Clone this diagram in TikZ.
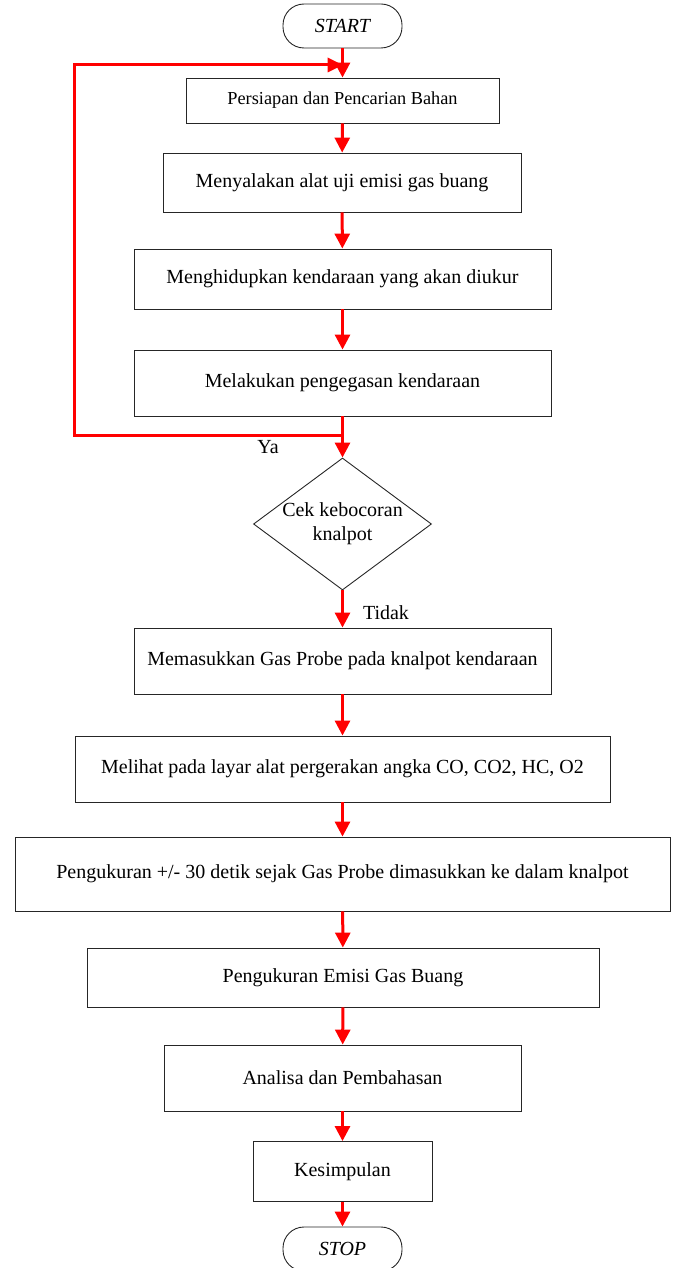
\documentclass[tikz,border=0pt]{standalone}
\usepackage{fontspec}
\setmainfont{Liberation Serif}
\usetikzlibrary{arrows.meta,shapes.geometric}
\begin{document}
\begin{tikzpicture}[x=1pt,y=-1pt,
  box/.style={draw=black!85,line width=0.9pt,inner sep=0pt,font=\fontsize{20}{24}\selectfont},
  term/.style={draw=black!85,line width=0.9pt,rounded corners=21pt,inner sep=0pt,minimum width=119pt,minimum height=44pt,font=\fontsize{20}{24}\selectfont\itshape},
  flow/.style={draw=red,line width=3pt,-{Triangle[length=15pt,width=15pt]}},
  lbl/.style={inner sep=0pt,font=\fontsize{20}{24}\selectfont}]
\useasboundingbox (0,0) rectangle (678,1268);
\node[term] (start) at (342.5,26) {START};
\node[box,minimum width=313pt,minimum height=45pt,font=\fontsize{18.3}{22}\selectfont] (b1) at (342.5,100.5) {Persiapan dan Pencarian Bahan};
\node[box,minimum width=358pt,minimum height=59pt] (b2) at (342,182.5) {Menyalakan alat uji emisi gas buang};
\node[box,minimum width=417pt,minimum height=60pt] (b3) at (342.5,279) {Menghidupkan kendaraan yang akan diukur};
\node[box,minimum width=417pt,minimum height=66pt] (b4) at (342.5,383) {Melakukan pengegasan kendaraan};
\node[draw=black!85,line width=0.9pt,diamond,aspect=1.35,inner sep=0pt,minimum width=178pt,minimum height=132pt,align=center,font=\fontsize{20}{24}\selectfont] (d) at (342.5,524) {Cek kebocoran\\knalpot};
\node[box,minimum width=417pt,minimum height=66pt] (b5) at (342.5,661) {Memasukkan Gas Probe pada knalpot kendaraan};
\node[box,minimum width=535pt,minimum height=66pt] (b6) at (342.5,769) {Melihat pada layar alat pergerakan angka CO, CO2, HC, O2};
\node[box,minimum width=655pt,minimum height=74pt] (b7) at (342.5,874) {Pengukuran +/- 30 detik sejak Gas Probe dimasukkan ke dalam knalpot};
\node[box,minimum width=512pt,minimum height=59pt] (b8) at (343,977.5) {Pengukuran Emisi Gas Buang};
\node[box,minimum width=357pt,minimum height=66pt] (b9) at (342.5,1078) {Analisa dan Pembahasan};
\node[box,minimum width=179pt,minimum height=60pt] (b10) at (342.5,1171.5) {Kesimpulan};
\node[term] (stop) at (342.5,1249) {STOP};
\node[lbl] (ya) at (268,447) {Ya};
\node[lbl] (tidak) at (386,613) {Tidak};
\coordinate (lb) at (74,435);
\coordinate (lt) at (74,65);
\coordinate (lm) at (342.5,435);
\coordinate (tm) at (342.5,65);
\draw[flow] (start) -- (b1);
\draw[flow] (b1) -- (b2);
\draw[flow] (b2) -- (b3);
\draw[flow] (b3) -- (b4);
\draw[flow] (b4) -- (d);
\draw[draw=red,line width=3pt,line join=miter] (lm) -- (lb) -- (lt) -- ([xshift=-14pt]tm);
\draw[draw=red,line width=0pt,-{Triangle[length=15pt,width=15pt]}] ([xshift=-16pt]tm) -- (tm);
\draw[flow] (d) -- (b5);
\draw[flow] (b5) -- (b6);
\draw[flow] (b6) -- (b7);
\draw[flow] (b7) -- (b8);
\draw[flow] (b8) -- (b9);
\draw[flow] (b9) -- (b10);
\draw[flow] (b10) -- (stop);
\end{tikzpicture}
\end{document}
